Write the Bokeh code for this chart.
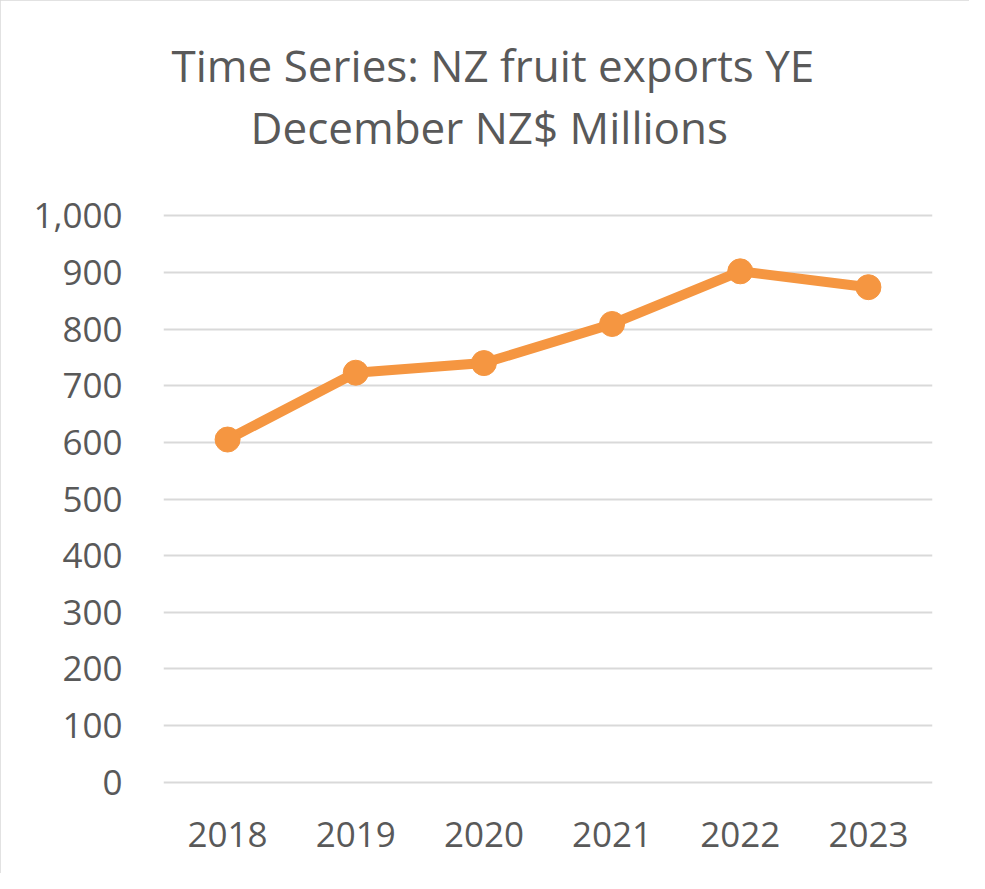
from bokeh.plotting import figure
from bokeh.models import FactorRange, Range1d, FixedTicker, NumeralTickFormatter, Title
from bokeh.embed import file_html
from bokeh.resources import INLINE

years = ["2018", "2019", "2020", "2021", "2022", "2023"]
exports = [605, 723, 740, 809, 902, 874]
y_ticks = [0, 100, 200, 300, 400, 500, 600, 700, 800, 900, 1000]
title_lines = ["Time Series: NZ fruit exports YE", "December NZ$ Millions"]

FONT = "Open Sans"
TXT = "#595959"
ORANGE = "#F59641"

p = figure(
    x_range=FactorRange(factors=years, range_padding=0),
    y_range=Range1d(-20, 1020),
    frame_width=769, frame_height=589,
    min_border_left=163, min_border_right=37,
    min_border_top=204, min_border_bottom=80,
    output_backend="svg", toolbar_location=None,
    title=None,
)
p.styles = {"outline": "2px solid #d9d9d9", "outline-offset": "-2px"}
p.outline_line_color = None
p.background_fill_color = "white"
p.border_fill_color = "white"

p.line(years, exports, line_color=ORANGE, line_width=10, line_join="round")
p.scatter(years, exports, size=25, fill_color=ORANGE, line_color=ORANGE)

p.xgrid.grid_line_color = None
p.ygrid.grid_line_color = "#d9d9d9"
p.ygrid.grid_line_width = 2
p.yaxis.ticker = FixedTicker(ticks=y_ticks)
p.yaxis.formatter = NumeralTickFormatter(format="0,0")

for ax in (p.xaxis[0], p.yaxis[0]):
    ax.axis_line_color = None
    ax.major_tick_line_color = None
    ax.minor_tick_line_color = None
    ax.major_label_text_font = FONT
    ax.major_label_text_font_size = "35px"
    ax.major_label_text_color = TXT
p.yaxis.major_label_standoff = 35
p.xaxis.major_label_standoff = 22

# second line first (closest to the frame), then first line above it
p.add_layout(Title(text=title_lines[1], align="left", offset=87, standoff=96,
                   text_font=FONT, text_font_size="44px", text_font_style="normal",
                   text_color=TXT), "above")
p.add_layout(Title(text=title_lines[0], align="left", offset=8, standoff=-96,
                   text_font=FONT, text_font_size="44px", text_font_style="normal",
                   text_color=TXT), "above")

open("out.html", "w").write(file_html(p, INLINE))
